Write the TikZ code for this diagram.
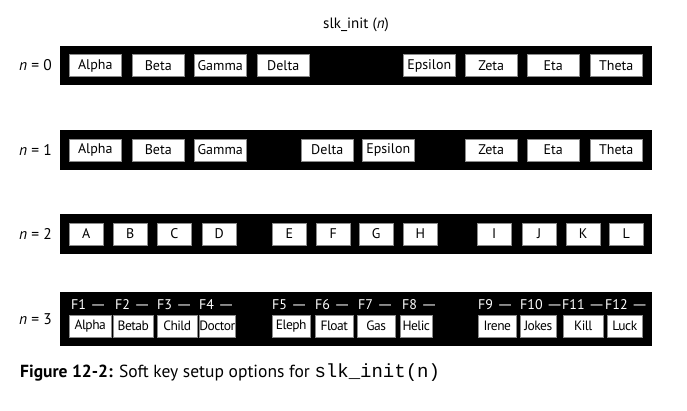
\documentclass[tikz,border=0pt]{standalone}
\usepackage{fontspec}
\setmainfont{PT Sans}
\setmonofont{Liberation Mono}
\newcommand{\longdash}{\scalebox{1.45}[1]{—}}
\begin{document}
\begin{tikzpicture}[x=1pt,y=-1pt,
  bar/.style={fill=black,draw=none,inner sep=0,minimum width=592,minimum height=40},
  keybox/.style={fill=white,draw=black!45,line width=0.5pt,inner sep=0,minimum height=22,anchor=west,font=\fontsize{14}{14}\selectfont},
  smallkey/.style={keybox,font=\fontsize{13.5}{13}\selectfont\addfontfeatures{LetterSpace=-4}},
  flabel/.style={text=white,inner sep=0,anchor=west,font=\fontsize{14}{14}\selectfont},
  rowlabel/.style={inner sep=0,anchor=east,font=\fontsize{15.5}{15}\selectfont},
]
\useasboundingbox (0,0) rectangle (687,411);
\node[inner sep=0,font=\fontsize{15}{15}\selectfont] (title) at (356,25) {slk\_init (\textit{n})};
% row 0
\node[bar,minimum height=39] (bar0) at (356,65.5) {};
\node[rowlabel] (n0) at (52,65.5) {\textit{n} = 0};
\foreach \x/\t [count=\i] in {69/Alpha,132/Beta,194/Gamma,257/Delta,403/Epsilon,465/Zeta,527/Eta,590/Theta}
  \node[keybox,minimum width=52] (r0k\i) at (\x,65.5) {\t};
% row 1
\node[bar] (bar1) at (356,150) {};
\node[rowlabel] (n1) at (52,150) {\textit{n} = 1};
\foreach \x/\t [count=\i] in {69/Alpha,132/Beta,194/Gamma,301/Delta,362/Epsilon,465/Zeta,527/Eta,590/Theta}
  \node[keybox,minimum width=52] (r1k\i) at (\x,150) {\t};
% row 2
\node[bar] (bar2) at (356,234) {};
\node[rowlabel] (n2) at (52,234) {\textit{n} = 2};
\foreach \x/\t [count=\i] in {69/A,113/B,157/C,202/D,272/E,316/F,359/G,403/H,477/I,522/J,566/K,609/L}
  \node[keybox,minimum width=34] (r2k\i) at (\x,234) {\t};
% row 3
\node[bar,minimum height=54] (bar3) at (356,319) {};
\node[rowlabel] (n3) at (52,319) {\textit{n} = 3};
\foreach \x/\w/\t [count=\i] in {69/42/Alpha,113/40/Betab,157/40/Child,199/36/Doctor,272/38/Eleph,315/38/Float,357/38/Gas,400/32/Helic,478/38/Irene,520/36/Jokes,563/40/Kill,607/35/Luck}
  \node[smallkey,minimum width=\w] (r3k\i) at (\x,326) {\t};
\foreach \x/\t [count=\i] in {71/F1,115/F2,157/F3,199/F4,272/F5,315/F6,358/F7,402/F8,478/F9,520/F10,562/F11,605/F12}
  \node[flabel] (f\i) at (\x,305) {\t\ \longdash};
% caption
\node[inner sep=0,anchor=base west,font=\fontsize{17.5}{17}\selectfont] (cap) at (20,377)
  {\textbf{Figure 12-2:} Soft key setup options for {\fontsize{19}{19}\selectfont\ttfamily slk\_init(n)}};
\end{tikzpicture}
\end{document}
